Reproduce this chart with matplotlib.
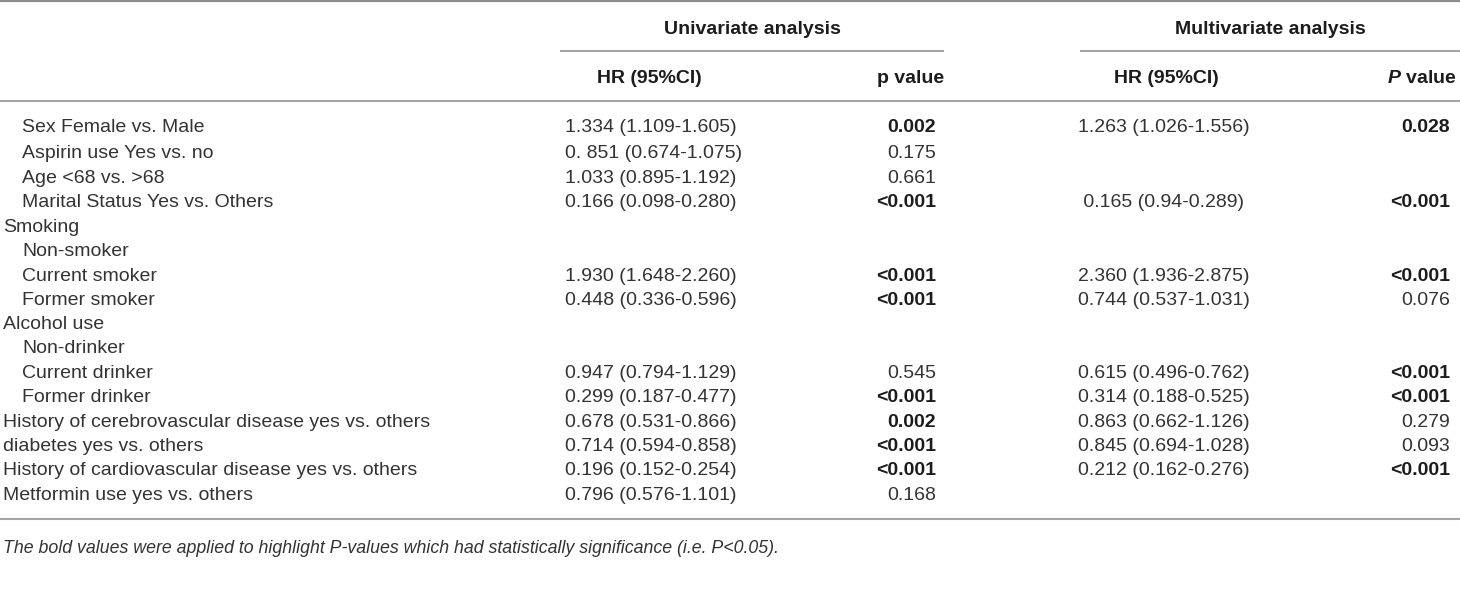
import matplotlib
matplotlib.use("Agg")
import matplotlib.pyplot as plt

# ---------------- data ----------------
labels = ["Sex Female vs. Male", "Aspirin use Yes vs. no", "Age <68 vs. >68",
          "Marital Status Yes vs. Others", "Smoking", "Non-smoker", "Current smoker",
          "Former smoker", "Alcohol use", "Non-drinker", "Current drinker",
          "Former drinker", "History of cerebrovascular disease yes vs. others",
          "diabetes yes vs. others", "History of cardiovascular disease yes vs. others",
          "Metformin use yes vs. others"]
indented = [1, 1, 1, 1, 0, 1, 1, 1, 0, 1, 1, 1, 0, 0, 0, 0]
uni_hr = ["1.334 (1.109-1.605)", "0. 851 (0.674-1.075)", "1.033 (0.895-1.192)",
          "0.166 (0.098-0.280)", "", "", "1.930 (1.648-2.260)", "0.448 (0.336-0.596)",
          "", "", "0.947 (0.794-1.129)", "0.299 (0.187-0.477)", "0.678 (0.531-0.866)",
          "0.714 (0.594-0.858)", "0.196 (0.152-0.254)", "0.796 (0.576-1.101)"]
uni_p = ["0.002", "0.175", "0.661", "<0.001", "", "", "<0.001", "<0.001", "", "",
         "0.545", "<0.001", "0.002", "<0.001", "<0.001", "0.168"]
multi_hr = ["1.263 (1.026-1.556)", "", "", " 0.165 (0.94-0.289)", "", "",
            "2.360 (1.936-2.875)", "0.744 (0.537-1.031)", "", "", "0.615 (0.496-0.762)",
            "0.314 (0.188-0.525)", "0.863 (0.662-1.126)", "0.845 (0.694-1.028)",
            "0.212 (0.162-0.276)", ""]
multi_p = ["0.028", "", "", "<0.001", "", "", "<0.001", "0.076", "", "", "<0.001",
           "<0.001", "0.279", "0.093", "<0.001", ""]
group_headers = ["Univariate analysis", "Multivariate analysis"]
col_headers = ["HR (95%CI)", "p value", "HR (95%CI)", "$\\mathit{P}$ value"]
footnote = ("The bold values were applied to highlight P-values which had statistically "
            "significance (i.e. P<0.05).")

# ---------------- style ----------------
FONT = "Liberation Sans"
plt.rcParams["font.family"] = [FONT, "DejaVu Sans"]
plt.rcParams["mathtext.fontset"] = "custom"
plt.rcParams["mathtext.it"] = FONT + ":italic:bold"
plt.rcParams["mathtext.bf"] = FONT + ":bold"
plt.rcParams["mathtext.rm"] = FONT
FS = 14
FS_NOTE = 12.8
TXT = "#333333"
TXT_B = "#1c1c1c"
LINE = "#a4a4a4"
BASE = 7  # baseline offset below the row centre (px)

W, H = 1460, 593
fig = plt.figure(figsize=(W / 100, H / 100), dpi=100)
ax = fig.add_axes([0, 0, 1, 1])
ax.set_xlim(0, W)
ax.set_ylim(H, 0)
ax.axis("off")


def is_sig(p):
    if not p:
        return False
    if p.startswith("<"):
        return True
    return float(p) < 0.05


def put(x, y, s, ha="left", bold=False, **kw):
    ax.text(x, y + BASE, s, ha=ha, va="baseline", fontsize=kw.pop("fontsize", FS),
            color=TXT_B if bold else TXT,
            fontweight="bold" if bold else "normal", **kw)


# rules
ax.plot([0, W], [1.2, 1.2], color="#8c8c8c", lw=1.6, solid_capstyle="butt")
ax.plot([560, 944], [51, 51], color=LINE, lw=1.5, solid_capstyle="butt")
ax.plot([1080, W], [51, 51], color=LINE, lw=1.5, solid_capstyle="butt")
ax.plot([0, W], [100.5, 100.5], color=LINE, lw=1.5, solid_capstyle="butt")
ax.plot([0, W], [519, 519], color=LINE, lw=1.5, solid_capstyle="butt")

# headers
put(752, 27, group_headers[0], ha="center", bold=True)
put(1270, 27, group_headers[1], ha="center", bold=True)
put(649, 76, col_headers[0], ha="center", bold=True)
put(944, 76, col_headers[1], ha="right", bold=True)
put(1166, 76, col_headers[2], ha="center", bold=True)
put(1457, 76, col_headers[3], ha="right", bold=True)

row_y = [125, 151, 176, 200, 225, 249, 274, 298, 322, 346, 371, 395, 420, 444, 468, 493]
for i, y in enumerate(row_y):
    put(22 if indented[i] else 3, y, labels[i])
    if uni_hr[i]:
        put(565, y, uni_hr[i])
    if uni_p[i]:
        put(936, y, uni_p[i], ha="right", bold=is_sig(uni_p[i]))
    if multi_hr[i]:
        put(1078, y, multi_hr[i])
    if multi_p[i]:
        put(1450, y, multi_p[i], ha="right", bold=is_sig(multi_p[i]))

put(3, 546, footnote, fontsize=FS_NOTE, style="italic")

fig.savefig("out.png", dpi=100)
